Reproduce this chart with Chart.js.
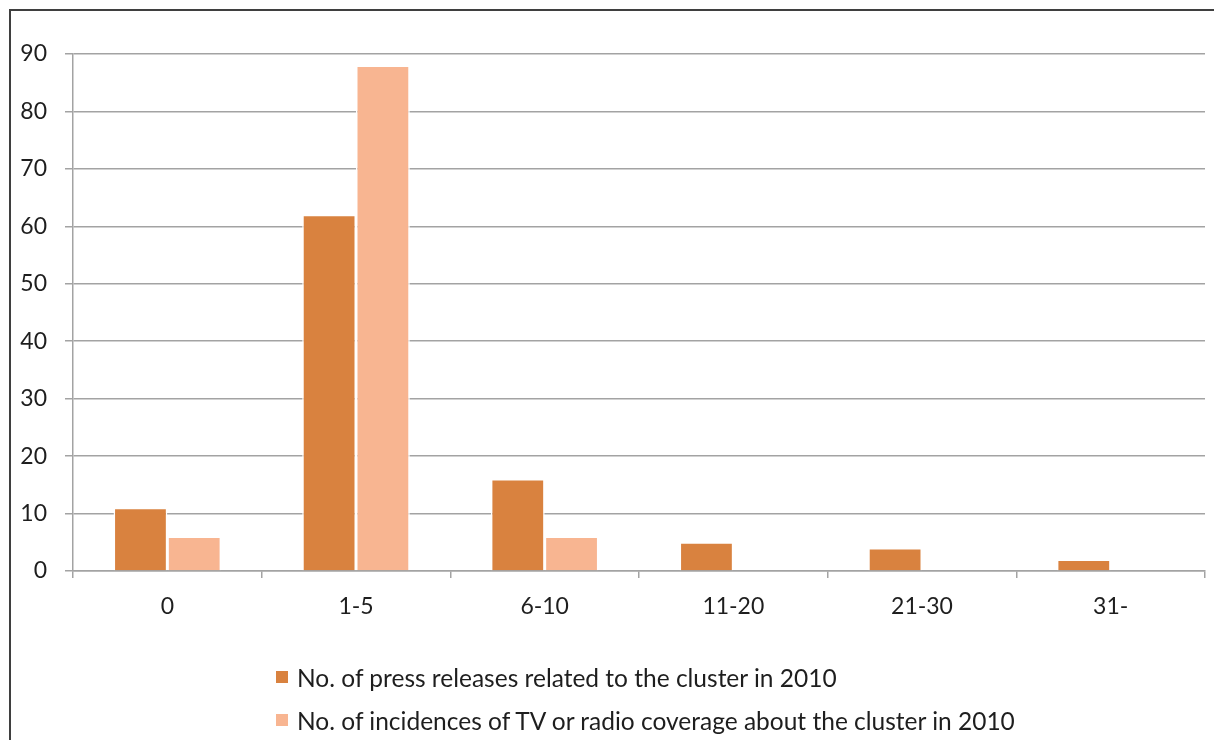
<!DOCTYPE html>
<html>
<head>
<meta charset="utf-8">
<script src="https://cdn.jsdelivr.net/npm/chart.js@4.4.0/dist/chart.umd.min.js"></script>
<style>
  html, body { margin: 0; padding: 0; background: #ffffff; }
  body { width: 1214px; height: 740px; position: relative; overflow: hidden; }
  #frame {
    position: absolute; left: 9px; top: 9px; width: 1220px; height: 760px;
    border-top: 2px solid #3f3f3f; border-left: 2px solid #3f3f3f;
  }
  #wrap { position: absolute; left: 0; top: 0; width: 1214px; height: 740px; }
  #legend {
    position: absolute; left: 276px; top: 663px;
    font-family: Lato, "Open Sans", sans-serif; font-size: 24.5px; color: #1e1e1e;
  }
  .item { display: flex; align-items: center; height: 28px; margin-bottom: 15px; white-space: nowrap; }
  .box { width: 12px; height: 12px; margin-right: 9px; flex: none; }
</style>
</head>
<body>
<div id="frame"></div>
<div id="wrap"><canvas id="c" width="1214" height="740"></canvas></div>
<div id="legend"></div>
<script>
// Category labels along the x axis
const categories = ['0', '1-5', '6-10', '11-20', '21-30', '31-'];

// Series values (number of clusters per range)
const pressReleases = [11, 62, 16, 5, 4, 2];
const tvRadioCoverage = [6, 88, 6, 0, 0, 0];

// Legend labels
const seriesNames = [
  'No. of press releases related to the cluster in 2010',
  'No. of incidences of TV or radio coverage about the cluster in 2010'
];
const seriesColors = ['#d9823f', '#f8b591'];

const yTicks = { min: 0, max: 90, step: 10 };

const fontFamily = 'Lato, "Open Sans", sans-serif';
const textColor = '#1e1e1e';
const gridColor = '#a3a3a3';

const chart = new Chart(document.getElementById('c'), {
  type: 'bar',
  data: {
    labels: categories,
    datasets: [
      { label: seriesNames[0], data: pressReleases, backgroundColor: seriesColors[0],
        borderColor: '#ffffff', borderWidth: 1.5, borderSkipped: 'bottom' },
      { label: seriesNames[1], data: tvRadioCoverage, backgroundColor: seriesColors[1],
        borderColor: '#ffffff', borderWidth: 1.5, borderSkipped: 'bottom' }
    ]
  },
  options: {
    responsive: false,
    animation: false,
    devicePixelRatio: 1,
    layout: { padding: { left: 0, top: 54, right: 9, bottom: 109 } },
    plugins: {
      legend: { display: false },
      tooltip: { enabled: false }
    },
    datasets: { bar: { categoryPercentage: 0.57, barPercentage: 1.0 } },
    scales: {
      x: {
        afterFit: (s) => { s.height = 60; },
        grid: { drawOnChartArea: false, drawTicks: true, tickLength: 7, color: gridColor, lineWidth: 1.5 },
        border: { display: true, color: gridColor, width: 1.5 },
        ticks: { color: textColor, font: { family: fontFamily, size: 23 }, padding: 15, maxRotation: 0 }
      },
      y: {
        min: yTicks.min, max: yTicks.max,
        afterFit: (s) => { s.width = 73; },
        grid: { color: gridColor, lineWidth: 1.5, drawTicks: true, tickLength: 8 },
        border: { display: true, color: gridColor, width: 1.5 },
        ticks: { stepSize: yTicks.step, color: textColor, font: { family: fontFamily, size: 23 }, padding: 18 }
      }
    }
  }
});

// Legend built from the chart's datasets
const legend = document.getElementById('legend');
chart.data.datasets.forEach((ds) => {
  const item = document.createElement('div');
  item.className = 'item';
  const box = document.createElement('span');
  box.className = 'box';
  box.style.background = ds.backgroundColor;
  const txt = document.createElement('span');
  txt.textContent = ds.label;
  item.appendChild(box);
  item.appendChild(txt);
  legend.appendChild(item);
});
</script>
</body>
</html>
